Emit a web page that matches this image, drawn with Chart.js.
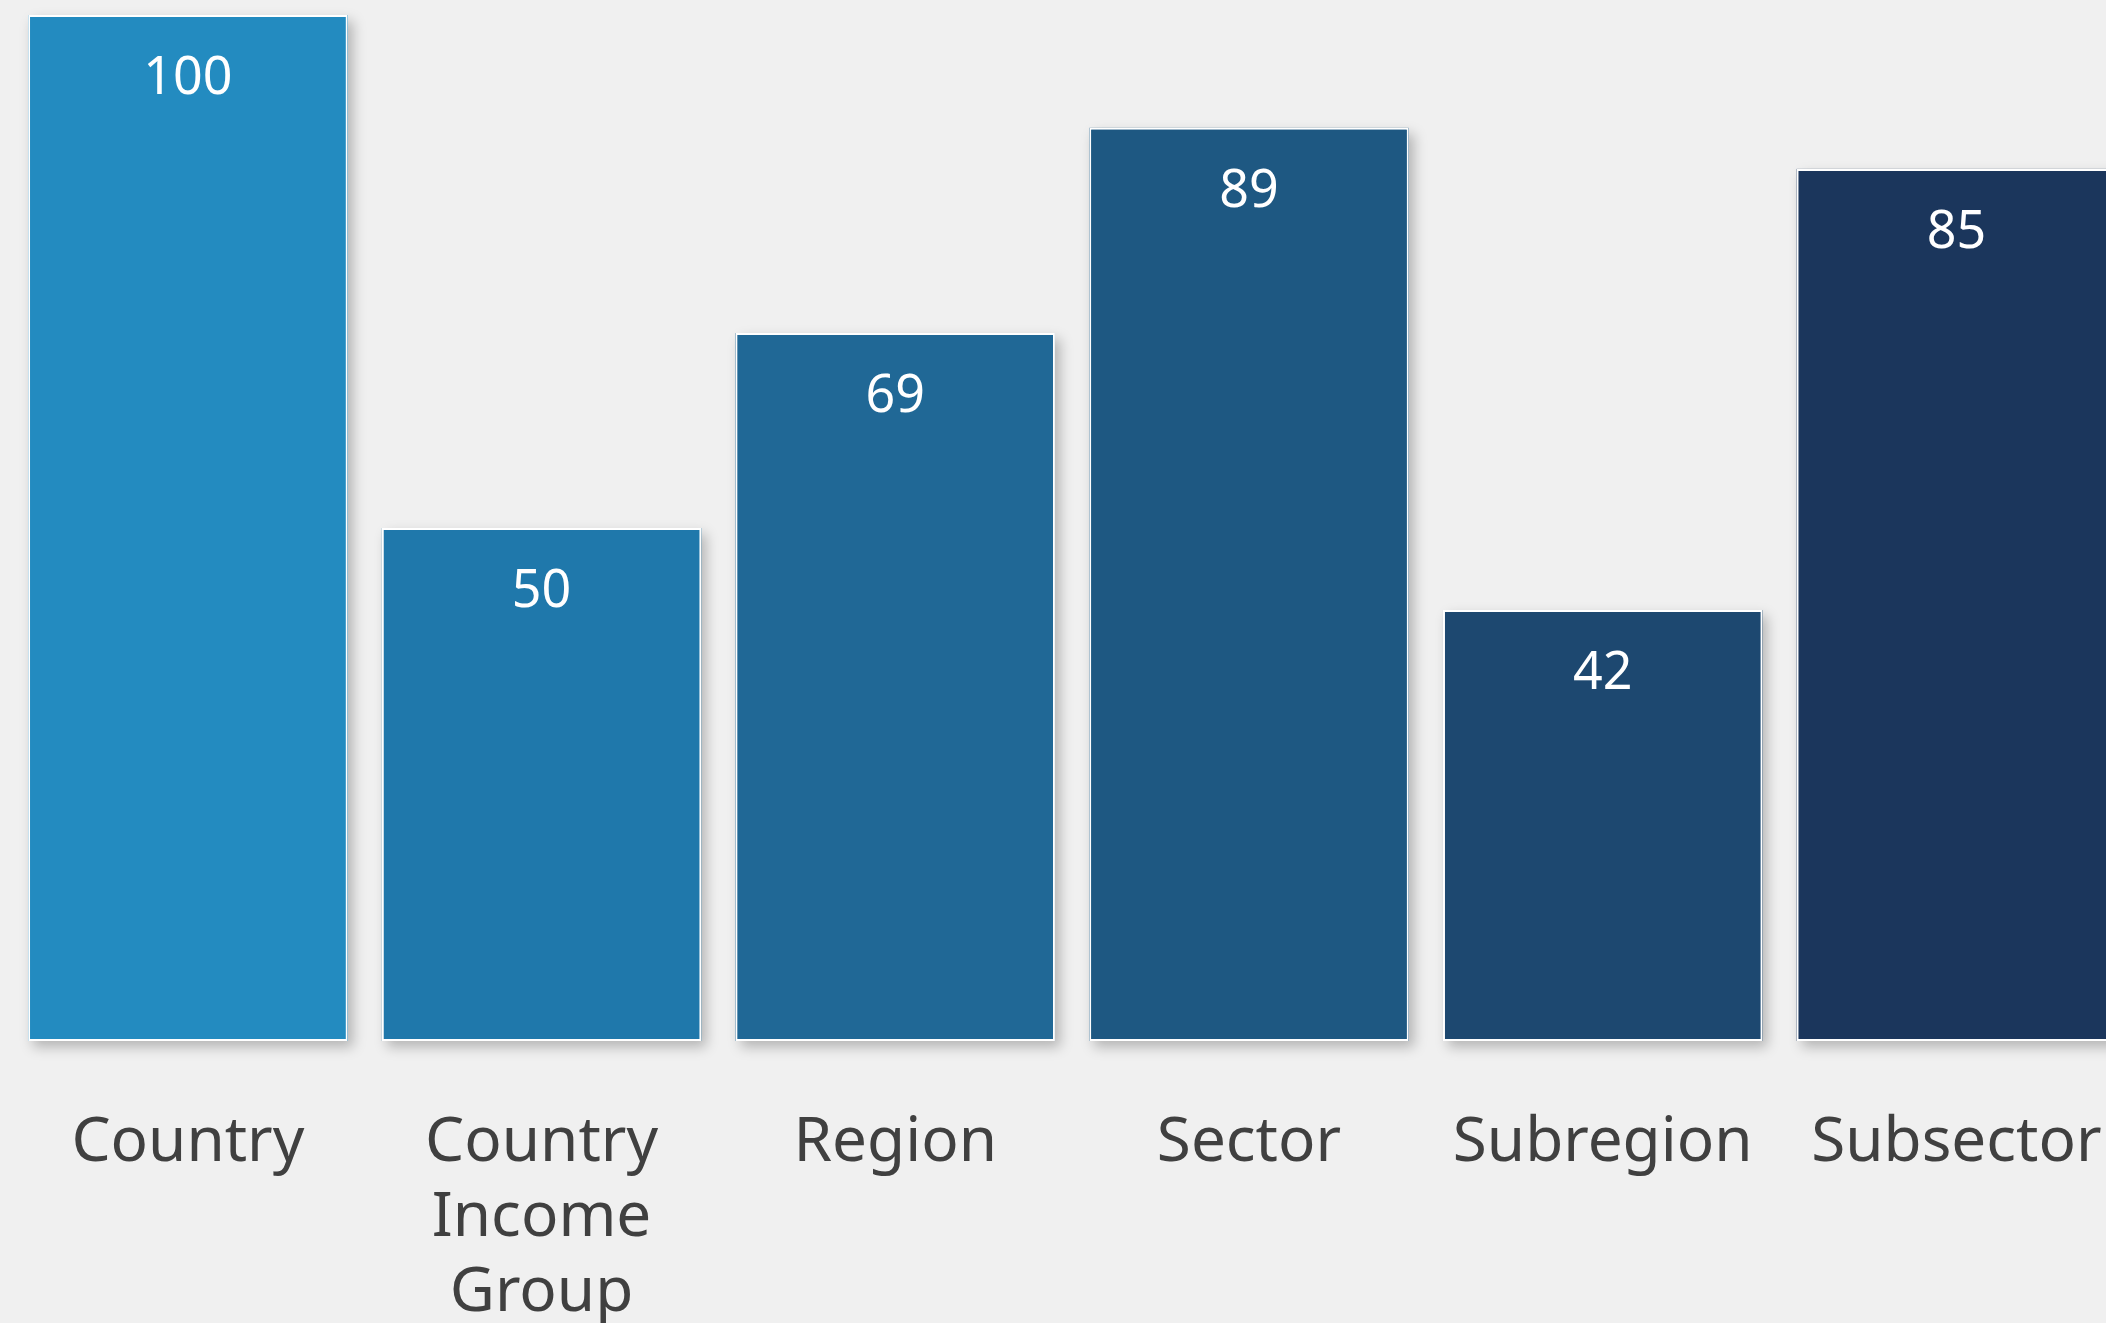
<!DOCTYPE html>
<html>
<head>
<meta charset="utf-8">
<script src="https://cdn.jsdelivr.net/npm/chart.js@4"></script>
<style>
  html, body { margin: 0; padding: 0; background: #f0f0f0; overflow: hidden; }
  canvas { display: block; }
</style>
</head>
<body>
<canvas id="c" width="2106" height="1323"></canvas>
<script>
const categories = [
  "Country",
  ["Country", "Income", "Group"],
  "Region",
  "Sector",
  "Subregion",
  "Subsector"
];
const values = [100, 50, 69, 89, 42, 85];
const barColors = ["#238bc0", "#1f78ab", "#206896", "#1e5882", "#1d4870", "#1b365c"];

// the original chart is cropped on the right: visible x range in category units
const xMin = -0.5;
const xMax = 5.423;

const shadowPlugin = {
  id: "barShadow",
  beforeDatasetsDraw(chart) {
    const ctx = chart.ctx;
    const meta = chart.getDatasetMeta(0);
    meta.data.forEach((bar, i) => {
      const p = bar.getProps(["x", "y", "base", "width"], true);
      ctx.save();
      ctx.shadowColor = "rgba(0,0,0,0.25)";
      ctx.shadowBlur = 12;
      ctx.shadowOffsetX = 5;
      ctx.shadowOffsetY = 6;
      ctx.fillStyle = barColors[i];
      ctx.fillRect(p.x - p.width / 2, p.y, p.width, p.base - p.y);
      ctx.restore();
    });
  }
};

const valueLabelPlugin = {
  id: "valueLabels",
  afterDatasetsDraw(chart) {
    const ctx = chart.ctx;
    const meta = chart.getDatasetMeta(0);
    ctx.save();
    ctx.fillStyle = "#ffffff";
    ctx.font = "52px 'Noto Sans'";
    ctx.textAlign = "center";
    ctx.textBaseline = "alphabetic";
    meta.data.forEach((bar, i) => {
      const p = bar.getProps(["x", "y"], true);
      ctx.fillText(String(values[i]), p.x, p.y + 79);
    });
    ctx.restore();
  }
};

new Chart(document.getElementById("c"), {
  type: "bar",
  data: {
    datasets: [{
      data: values.map((v, i) => ({ x: i, y: v })),
      backgroundColor: barColors,
      borderColor: "#ffffff",
      borderWidth: 2,
      borderSkipped: false,
      categoryPercentage: 1,
      barPercentage: 0.903
    }]
  },
  options: {
    responsive: false,
    animation: false,
    devicePixelRatio: 1,
    layout: { padding: { left: 11, right: 0, top: 15, bottom: 0 } },
    plugins: {
      legend: { display: false },
      tooltip: { enabled: false }
    },
    scales: {
      x: {
        type: "linear",
        min: xMin,
        max: xMax,
        offset: false,
        grid: { display: false, drawTicks: false },
        border: { display: false },
        afterFit(scale) {
          scale.height = 282;
          scale.paddingLeft = 0;
          scale.paddingRight = 0;
        },
        ticks: {
          stepSize: 1,
          includeBounds: false,
          autoSkip: false,
          maxRotation: 0,
          padding: 65,
          color: "#404040",
          font: { family: "'Noto Sans'", size: 62, lineHeight: 1.21 },
          callback: (v) => (Number.isInteger(v) && categories[v] !== undefined) ? categories[v] : ""
        }
      },
      y: {
        display: false,
        min: 0,
        max: 100
      }
    }
  },
  plugins: [shadowPlugin, valueLabelPlugin]
});
</script>
</body>
</html>
